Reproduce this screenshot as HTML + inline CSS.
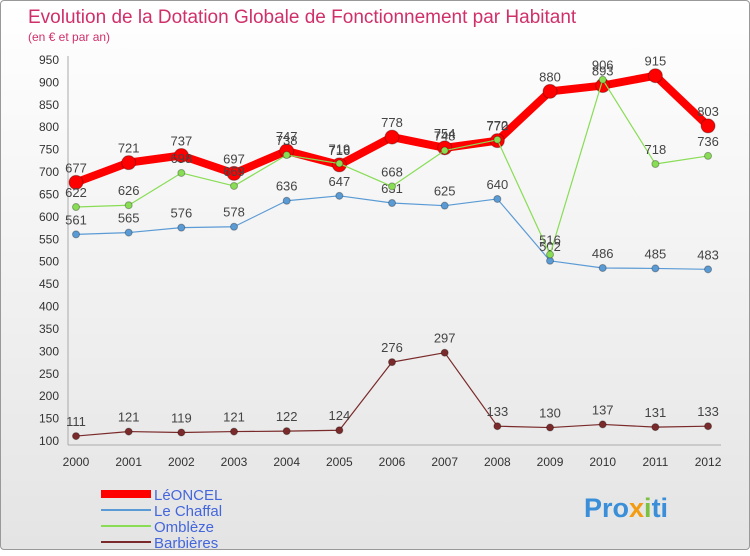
<!DOCTYPE html>
<html><head><meta charset="utf-8"><style>
body{margin:0;width:750px;height:550px;overflow:hidden;font-family:"Liberation Sans",sans-serif}
#wrap{position:absolute;left:0;top:0;width:748px;height:548px;border:1px solid #999;border-radius:4px;background:linear-gradient(#ffffff,#e4e4e4)}
</style></head><body>
<div id="wrap">
<svg width="750" height="550" id="svg">
<text x="27" y="22" font-size="19" fill="#d0306a">Evolution de la Dotation Globale de Fonctionnement par Habitant</text>
<text x="27" y="40" font-size="12" fill="#d0306a">(en € et par an)</text>
<g id="grid"></g><g id="series"></g>
<g>
<line x1="100" y1="493" x2="150" y2="493" stroke="#f00" stroke-width="8"/>
<text x="153" y="499" font-size="15" fill="#4466dd">LéONCEL</text>
<line x1="100" y1="509" x2="150" y2="509" stroke="#5b9bd5" stroke-width="2"/>
<text x="153" y="515" font-size="15" fill="#4466dd">Le Chaffal</text>
<line x1="100" y1="525" x2="150" y2="525" stroke="#88dd55" stroke-width="2"/>
<text x="153" y="531" font-size="15" fill="#4466dd">Omblèze</text>
<line x1="100" y1="541" x2="150" y2="541" stroke="#7a2a2a" stroke-width="2"/>
<text x="153" y="547" font-size="15" fill="#4466dd">Barbières</text>
</g>
<text x="583" y="516" font-size="27" font-weight="bold" fill="#3a8fd8">Pro<tspan fill="#f39c12">x</tspan><tspan fill="#7cc242">i</tspan>ti</text>
</svg></div>
<script>
const years=["2000","2001","2002","2003","2004","2005","2006","2007","2008","2009","2010","2011","2012"];
const leoncel=[677,721,737,697,747,716,778,754,770,880,893,915,803];
const chaffal=[561,565,576,578,636,647,631,625,640,502,486,485,483];
const ombleze=[622,626,698,669,738,719,668,748,772,516,906,718,736];
const barbieres=[111,121,119,121,122,124,276,297,133,130,137,131,133];
const yTicks=[100,150,200,250,300,350,400,450,500,550,600,650,700,750,800,850,900,950];
const NS="http://www.w3.org/2000/svg";
const X=i=>75+i*52.67, Y=v=>440-(v-100)*(381/850);
function mk(t,a,p){const e=document.createElementNS(NS,t);for(const k in a)e.setAttribute(k,a[k]);p.appendChild(e);return e;}
const g=document.getElementById('grid'), s=document.getElementById('series');
const ax=mk('line',{x1:67,y1:55,x2:67,y2:444,stroke:'#aaa'},g);


const bx=mk('line',{x1:67,y1:444,x2:720,y2:444,stroke:'#aaa'},g);


yTicks.forEach(v=>{const t=mk('text',{x:58,y:Y(v)+4,'font-size':12,fill:'#333','text-anchor':'end'},g);t.textContent=v;

});
years.forEach((y,i)=>{const t=mk('text',{x:X(i),y:465,'font-size':12,fill:'#333','text-anchor':'middle'},g);t.textContent=y;

});
function series(d,col,w,r,name){
const pl=mk('polyline',{points:d.map((v,i)=>X(i)+','+Y(v)).join(' '),fill:'none',stroke:col,'stroke-width':w,'stroke-linejoin':'round'},s);


d.forEach((v,i)=>{const c=mk('circle',{cx:X(i),cy:Y(v),r:r,fill:col,stroke:'rgba(0,0,0,0.3)'},s);


const t=mk('text',{x:X(i),y:Y(v)-10,'font-size':13,fill:'#444','text-anchor':'middle'},s);t.textContent=v;

});}
series(barbieres,'#7a2a2a',1.2,3.5,'barbieres');
series(chaffal,'#5b9bd5',1.2,3.5,'chaffal');
series(leoncel,'#ff0000',8,7,'leoncel');
series(ombleze,'#88dd55',1.2,3.5,'ombleze');
</script>
</body></html>
